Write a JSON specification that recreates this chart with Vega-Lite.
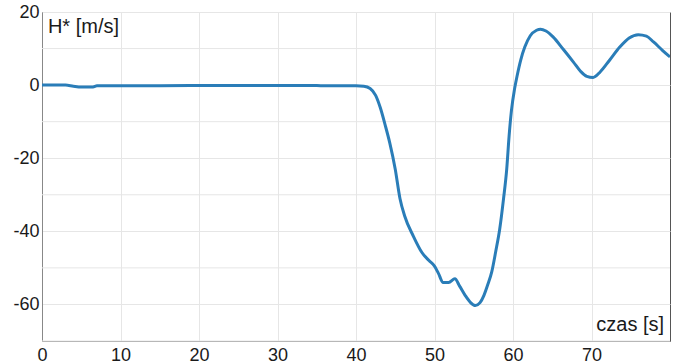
{
  "$schema": "https://vega.github.io/schema/vega-lite/v6.json",
  "width": 628,
  "height": 329,
  "autosize": {"type": "none"},
  "padding": {"left": 42, "top": 12, "right": 16, "bottom": 20},
  "background": "white",
  "config": {
    "view": {"stroke": "#555555", "strokeWidth": 1},
    "font": "Liberation Sans"
  },
  "datasets": {
    "curve": [
      {"t": 0, "h": 0}, {"t": 3, "h": 0}, {"t": 4, "h": -0.3}, {"t": 5, "h": -0.5}, {"t": 6.5, "h": -0.5},
      {"t": 7, "h": -0.2}, {"t": 10, "h": -0.2}, {"t": 20, "h": -0.1}, {"t": 30, "h": -0.1}, {"t": 35, "h": -0.1},
      {"t": 36, "h": -0.2}, {"t": 40, "h": -0.2}, {"t": 41, "h": -0.3}, {"t": 41.8, "h": -0.9}, {"t": 42.5, "h": -2.8},
      {"t": 43.1, "h": -6.2}, {"t": 43.7, "h": -10.8}, {"t": 44.3, "h": -15.8}, {"t": 45, "h": -23},
      {"t": 45.6, "h": -31}, {"t": 46.2, "h": -35.8}, {"t": 47.3, "h": -41.3}, {"t": 48.4, "h": -45.8}, {"t": 49.3, "h": -48},
      {"t": 50, "h": -49.5}, {"t": 50.5, "h": -51.5}, {"t": 51.1, "h": -54}, {"t": 51.8, "h": -54}, {"t": 52.6, "h": -53},
      {"t": 53.2, "h": -55}, {"t": 53.9, "h": -57.5}, {"t": 54.6, "h": -59.5}, {"t": 55.2, "h": -60.3}, {"t": 55.8, "h": -59.5},
      {"t": 56.3, "h": -57.5}, {"t": 56.8, "h": -54.5}, {"t": 57.3, "h": -51}, {"t": 57.8, "h": -45.5}, {"t": 58.3, "h": -39.5},
      {"t": 58.8, "h": -31}, {"t": 59.2, "h": -23}, {"t": 59.5, "h": -14}, {"t": 59.8, "h": -7}, {"t": 60.2, "h": -1},
      {"t": 60.5, "h": 2.3}, {"t": 61, "h": 7}, {"t": 61.5, "h": 10.4}, {"t": 62.2, "h": 13.5}, {"t": 63, "h": 15},
      {"t": 63.5, "h": 15.3}, {"t": 64.2, "h": 14.8}, {"t": 65.1, "h": 13.2}, {"t": 66.4, "h": 9.8}, {"t": 67.7, "h": 6.3},
      {"t": 68.6, "h": 3.8}, {"t": 69.4, "h": 2.4}, {"t": 70.2, "h": 2.1}, {"t": 71.1, "h": 3.6}, {"t": 72.3, "h": 6.8},
      {"t": 73.6, "h": 10.4}, {"t": 74.8, "h": 12.9}, {"t": 75.96, "h": 13.8}, {"t": 77, "h": 13.4}, {"t": 77.9, "h": 11.8},
      {"t": 79, "h": 9.6}, {"t": 80, "h": 7.7}
    ],
    "minor": [{"h": -70}, {"h": -50}, {"h": -30}, {"h": -10}, {"h": 10}]
  },
  "layer": [
    {
      "data": {"name": "minor"},
      "mark": {"type": "rule", "color": "#e6e6e6", "strokeWidth": 1},
      "encoding": {
        "y": {"field": "h", "type": "quantitative"}
      }
    },
    {
      "data": {"name": "curve"},
      "mark": {"type": "line", "color": "#2a7db8", "strokeWidth": 3, "interpolate": "monotone", "clip": true},
      "encoding": {
        "x": {
          "field": "t", "type": "quantitative",
          "scale": {"domain": [0, 80], "nice": false, "zero": false},
          "axis": {
            "title": null, "values": [0, 10, 20, 30, 40, 50, 60, 70],
            "grid": true, "gridColor": "#e6e6e6", "gridWidth": 1,
            "ticks": false, "domainColor": "#888888", "labelFlush": false,
            "labelFontSize": 18, "labelColor": "#1a1a1a", "labelPadding": 5,
            "labelFont": "Liberation Sans"
          }
        },
        "y": {
          "field": "h", "type": "quantitative",
          "scale": {"domain": [-70, 20], "nice": false, "zero": false},
          "axis": {
            "title": null, "values": [-60, -40, -20, 0, 20],
            "labelExpr": "'' + datum.value",
            "grid": true, "gridColor": "#e6e6e6", "gridWidth": 1,
            "ticks": false, "domainColor": "#888888", "labelFlush": false,
            "labelFontSize": 18, "labelColor": "#1a1a1a", "labelPadding": 3,
            "labelFont": "Liberation Sans", "labelOverlap": false
          }
        }
      }
    },
    {
      "data": {"values": [{"t": 0.75, "h": 15.8, "txt": "H* [m/s]"}]},
      "mark": {"type": "text", "fontSize": 20, "color": "#1a1a1a", "font": "Liberation Sans", "baseline": "middle", "align": "left"},
      "encoding": {
        "x": {"field": "t", "type": "quantitative"},
        "y": {"field": "h", "type": "quantitative"},
        "text": {"field": "txt"}
      }
    },
    {
      "data": {"values": [{"t": 79.25, "h": -65.5, "txt": "czas [s]"}]},
      "mark": {"type": "text", "fontSize": 20, "color": "#1a1a1a", "font": "Liberation Sans", "baseline": "middle", "align": "right"},
      "encoding": {
        "x": {"field": "t", "type": "quantitative"},
        "y": {"field": "h", "type": "quantitative"},
        "text": {"field": "txt"}
      }
    }
  ]
}
